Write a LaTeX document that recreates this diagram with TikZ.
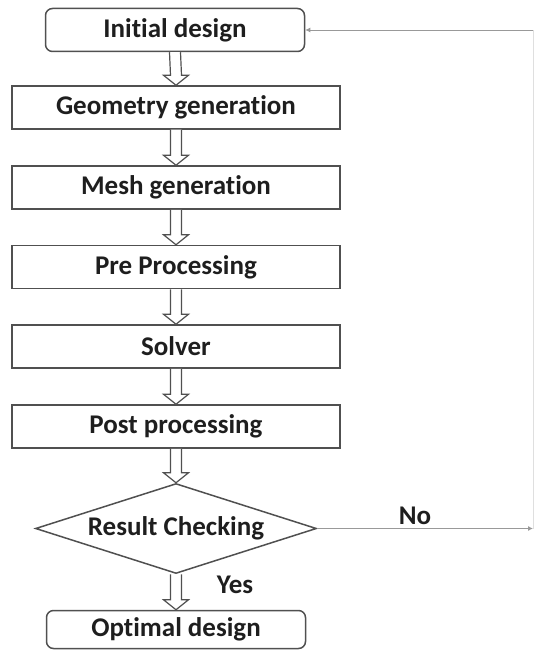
\documentclass[tikz,border=0pt]{standalone}
\usepackage{fontspec}
\setmainfont[Ligatures={NoCommon}]{Carlito}
\usetikzlibrary{shapes.geometric,calc,arrows.meta}
\definecolor{edge}{HTML}{505050}
\definecolor{ink}{HTML}{1E1E1E}
\tikzset{
  base/.style={draw=edge, line width=1.5pt, text=ink, font=\fontsize{27}{29}\selectfont\bfseries, inner sep=0pt},
  procbox/.style={base, rectangle, minimum width=328pt, minimum height=43pt},
  termbox/.style={base, rectangle, rounded corners=7pt, minimum width=259pt, minimum height=43pt},
  decbox/.style={base, diamond, aspect=3.12, minimum width=281pt, minimum height=90pt},
  blk/.style={draw=edge, line width=1.2pt, fill=white, line join=miter},
  thin/.style={draw=gray!80, line width=0.9pt},
  faint/.style={draw=gray!25, line width=0.9pt},
  tip/.style={-{Latex[length=5pt,width=5pt]}},
  lbl/.style={text=ink, font=\fontsize{27}{29}\selectfont\bfseries, inner sep=0pt}
}
\newcommand{\blockarrow}[2]{%
  \draw[blk] ($(#1.south)+(-5.5,0)$) -- ($(#2.north)+(-5.5,-10)$) -- ($(#2.north)+(-12.5,-10)$) -- (#2.north) -- ($(#2.north)+(12.5,-10)$) -- ($(#2.north)+(5.5,-10)$) -- ($(#1.south)+(5.5,0)$);}
\begin{document}
\begin{tikzpicture}[x=1pt,y=-1pt]
\useasboundingbox (0,0) rectangle (536,650);
\node[termbox] (init) at (175,30) {Initial design};
\node[procbox] (geo) at (176,107.5) {Geometry generation};
\node[procbox] (mesh) at (176,187.5) {Mesh generation};
\node[procbox] (pre) at (176,267) {Pre Processing};
\node[procbox] (solv) at (176,346.5) {Solver};
\node[procbox] (post) at (176,426.5) {Post processing};
\node[decbox] (chk) at (176,528.5) {Result Checking};
\node[termbox, minimum height=38pt] (opt) at (176,629.5) {Optimal design};
\coordinate (c1) at (533,528.5);
\coordinate (c2) at (533,30);
\blockarrow{init}{geo}
\blockarrow{geo}{mesh}
\blockarrow{mesh}{pre}
\blockarrow{pre}{solv}
\blockarrow{solv}{post}
\blockarrow{post}{chk}
\blockarrow{chk}{opt}
\draw[faint] (c1) -- (c2);
\draw[thin, tip] (chk.east) -- (c1);
\draw[thin, tip] (c2) -- (init.east);
\node[lbl] (no) at (415,516) {No};
\node[lbl] (yes) at (235,585) {Yes};
\end{tikzpicture}
\end{document}
